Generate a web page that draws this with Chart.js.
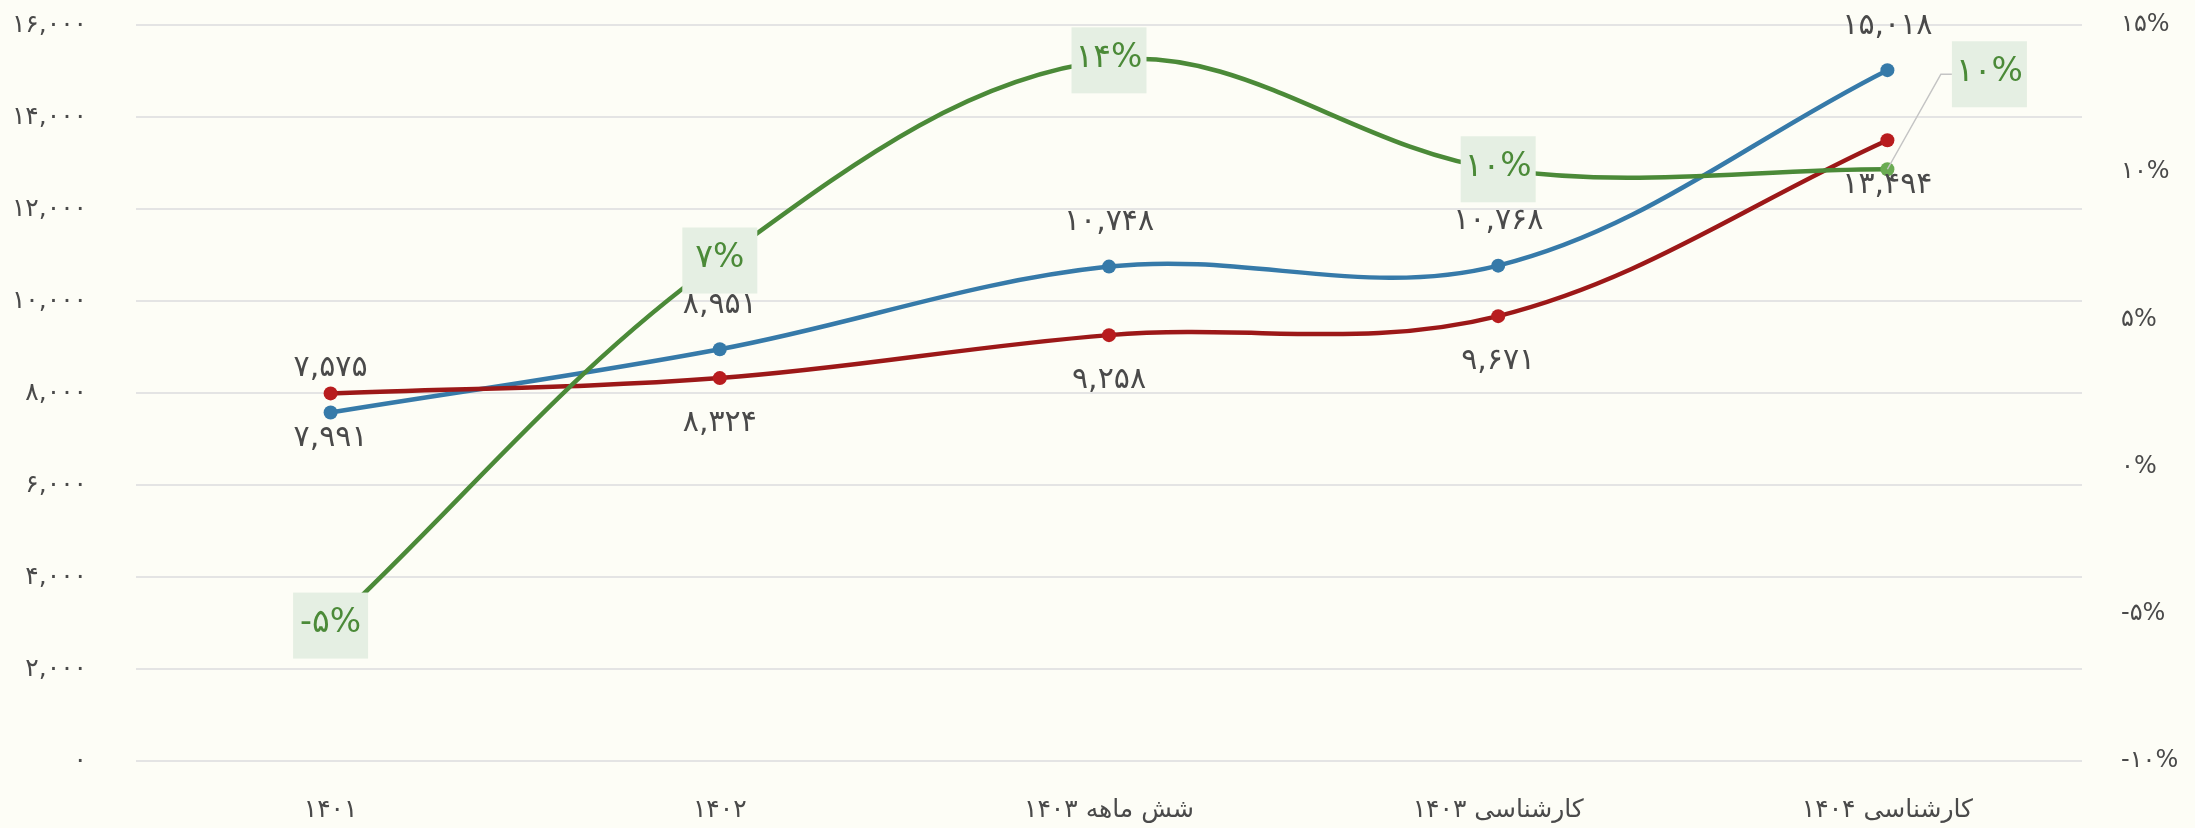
<!DOCTYPE html>
<html>
<head>
<meta charset="utf-8">
<script src="https://cdn.jsdelivr.net/npm/chart.js@4/dist/chart.umd.min.js"></script>
<style>
  html, body { margin: 0; padding: 0; background: #fdfdf6; }
  #wrap { width: 2195px; height: 828px; position: relative; }
</style>
</head>
<body>
<div id="wrap"><canvas id="c"></canvas></div>
<script>
// ---- data ----
const categories = ['۱۴۰۱', '۱۴۰۲', 'شش ماهه ۱۴۰۳', 'کارشناسی ۱۴۰۳', 'کارشناسی ۱۴۰۴'];
const blueValues = [7575, 8951, 10748, 10768, 15018];
const redValues = [7991, 8324, 9258, 9671, 13494];
const greenValues = [-5.4, 7, 13.8, 10.1, 10.1];
const leftTicks = { min: 0, max: 16000, step: 2000 };
const rightTicks = { min: -10, max: 15, step: 5 };

const FONT = '"DejaVu Sans", "Noto Sans", sans-serif';
const faDigits = '۰۱۲۳۴۵۶۷۸۹';
function toFa(s) { return String(s).replace(/[0-9]/g, d => faDigits[+d]); }
function fmtNum(v) {
  const s = Math.round(Math.abs(v)).toString().replace(/\B(?=(\d{3})+(?!\d))/g, ',');
  return (v < 0 ? '-' : '') + toFa(s);
}
function fmtPct(v) { return (v < 0 ? '-' : '') + toFa(Math.round(Math.abs(v))) + '%'; }

const bgPlugin = {
  id: 'bg',
  beforeDraw(chart) {
    const ctx = chart.ctx;
    ctx.save();
    ctx.fillStyle = '#fdfdf6';
    ctx.fillRect(0, 0, chart.width, chart.height);
    ctx.restore();
  }
};

const labelPlugin = {
  id: 'labels',
  afterDatasetsDraw(chart) {
    const ctx = chart.ctx;
    ctx.save();
    ctx.textAlign = 'center';
    ctx.textBaseline = 'middle';
    ctx.font = '30px ' + FONT;
    ctx.fillStyle = '#4a4a4a';
    const blueMeta = chart.getDatasetMeta(2);
    blueMeta.data.forEach((p, i) => ctx.fillText(fmtNum(blueValues[i]), p.x, p.y - 44));
    const redMeta = chart.getDatasetMeta(1);
    redMeta.data.forEach((p, i) => ctx.fillText(fmtNum(redValues[i]), p.x, p.y + 45));
    const gMeta = chart.getDatasetMeta(0);
    gMeta.data.forEach((p, i) => {
      let cx = p.x, cy = p.y;
      const w = 75, h = 66;
      if (i === gMeta.data.length - 1) {
        cx = p.x + 102; cy = p.y - 95;
        ctx.strokeStyle = '#c4c4c4';
        ctx.lineWidth = 1.5;
        ctx.beginPath();
        ctx.moveTo(p.x, p.y);
        ctx.lineTo(cx - w / 2 - 11, cy);
        ctx.lineTo(cx - w / 2, cy);
        ctx.stroke();
      }
      ctx.fillStyle = '#e5efe3';
      ctx.fillRect(cx - w / 2, cy - h / 2, w, h);
      ctx.fillStyle = '#4b8a38';
      ctx.font = '33px ' + FONT;
      ctx.fillText(fmtPct(greenValues[i]), cx, cy - 2);
    });
    ctx.restore();
  }
};

new Chart(document.getElementById('c'), {
  type: 'line',
  data: {
    labels: categories,
    datasets: [
      {
        label: 'green', data: greenValues, yAxisID: 'y2', order: 0,
        borderColor: '#4b8a38', borderWidth: 4.5, tension: 0.36,
        pointRadius: 7, pointBackgroundColor: '#6aab52', pointBorderWidth: 0
      },
      {
        label: 'red', data: redValues, yAxisID: 'y', order: 1,
        borderColor: '#9c1818', borderWidth: 4.5, tension: 0.36,
        pointRadius: 7, pointBackgroundColor: '#b81c1e', pointBorderWidth: 0
      },
      {
        label: 'blue', data: blueValues, yAxisID: 'y', order: 2,
        borderColor: '#367aa9', borderWidth: 4.5, tension: 0.36,
        pointRadius: 7, pointBackgroundColor: '#367aa9', pointBorderWidth: 0
      }
    ]
  },
  options: {
    responsive: true,
    maintainAspectRatio: false,
    devicePixelRatio: 1,
    animation: false,
    layout: { padding: { top: 25, left: 0, right: 0, bottom: 0 } },
    plugins: { legend: { display: false }, tooltip: { enabled: false }, title: { display: false } },
    scales: {
      x: {
        offset: true,
        grid: { display: false, drawTicks: false },
        border: { display: false },
        ticks: { color: '#4a4a4a', font: { family: FONT, size: 25 }, padding: 34, maxRotation: 0 },
        afterFit(s) { s.height = 67; }
      },
      y: {
        position: 'left',
        min: leftTicks.min, max: leftTicks.max,
        grid: { color: '#e4e4e4', lineWidth: 2, drawTicks: false },
        border: { display: false },
        ticks: { stepSize: leftTicks.step, color: '#4a4a4a', font: { family: FONT, size: 25 }, padding: 49,
                 callback: v => fmtNum(v) },
        afterFit(s) { s.width = 136; s.paddingTop = 10; s.paddingBottom = 10; }
      },
      y2: {
        position: 'right',
        min: rightTicks.min, max: rightTicks.max,
        grid: { drawOnChartArea: false, drawTicks: false },
        border: { display: false },
        ticks: { stepSize: rightTicks.step, color: '#4a4a4a', font: { family: FONT, size: 24 }, padding: 39,
                 callback: v => fmtPct(v) },
        afterFit(s) { s.width = 113; s.paddingTop = 10; s.paddingBottom = 10; }
      }
    }
  },
  plugins: [bgPlugin, labelPlugin]
});
</script>
</body>
</html>
